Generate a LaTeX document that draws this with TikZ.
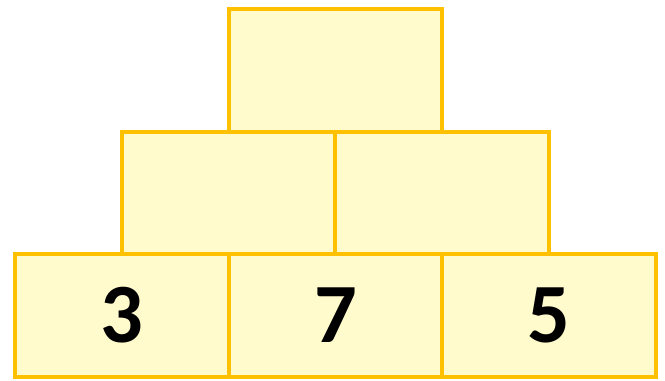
\documentclass[tikz,border=0pt]{standalone}
\usepackage{fontspec}
\setmainfont{Carlito}
\definecolor{celda}{HTML}{FFFBCC}
\definecolor{borde}{HTML}{FFC000}
\tikzset{
  ladrillo/.style={draw=borde, fill=celda, line width=0.08cm,
    minimum width=4.27cm, minimum height=2.45cm, inner sep=0pt,
    font=\fontsize{48}{48}\selectfont\bfseries}
}
\begin{document}
\begin{tikzpicture}
		\useasboundingbox (0,0) rectangle (13.3,7.62);
		
		% fila de abajo
		\node[ladrillo] (a1) at (2.44,1.31) {3};
		\node[ladrillo] (a2) at (6.71,1.31) {7};
		\node[ladrillo] (a3) at (10.98,1.31) {5};
		
		% fila del medio
		\node[ladrillo] (b1) at (4.57,3.76) {};
		\node[ladrillo] (b2) at (8.84,3.76) {};
		
		% cima
		\node[ladrillo] (c1) at (6.71,6.21) {};
	\end{tikzpicture}
\end{document}
